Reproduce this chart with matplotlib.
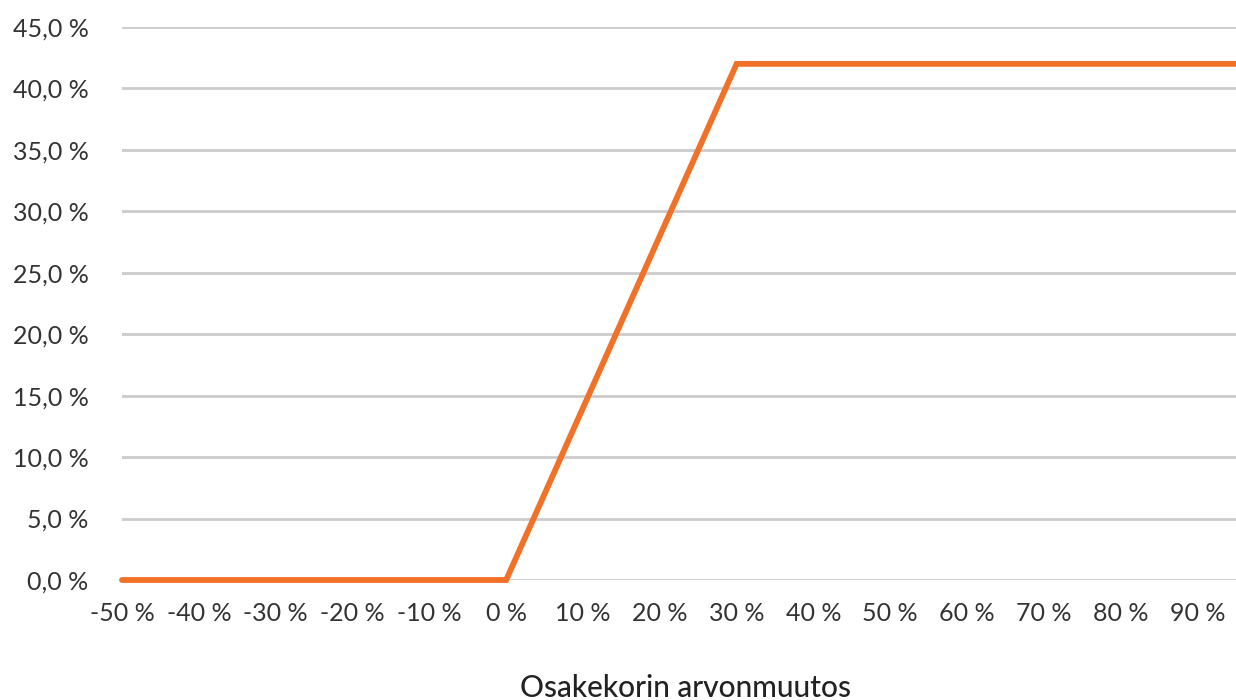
import matplotlib
matplotlib.use("Agg")
import matplotlib.pyplot as plt
from matplotlib.ticker import FuncFormatter

# Data
osakekori_muutos = [-50, -45, -40, -35, -30, -25, -20, -15, -10, -5, 0, 5, 10, 15, 20, 25, 30,
                    35, 40, 45, 50, 55, 60, 65, 70, 75, 80, 85, 90, 95]
tuotto = [0.0, 0.0, 0.0, 0.0, 0.0, 0.0, 0.0, 0.0, 0.0, 0.0, 0.0, 7.0, 14.0, 21.0, 28.0, 35.0, 42.0,
          42.0, 42.0, 42.0, 42.0, 42.0, 42.0, 42.0, 42.0, 42.0, 42.0, 42.0, 42.0, 42.0]
x_ticks = [-50, -40, -30, -20, -10, 0, 10, 20, 30, 40, 50, 60, 70, 80, 90]
y_ticks = [0, 5, 10, 15, 20, 25, 30, 35, 40, 45]
x_label = "Osakekorin arvonmuutos"

plt.rcParams['font.family'] = ['Lato', 'DejaVu Sans']

fig = plt.figure(figsize=(12.36, 7.0), dpi=100)
W, H = 1236, 700
left, right, top, bottom = 122, 1236, 27, 580
ax = fig.add_axes([left / W, 1 - bottom / H, (right - left) / W, (bottom - top) / H])

ax.plot(osakekori_muutos, tuotto, color='#F07127', linewidth=4.2, solid_capstyle='round',
        solid_joinstyle='miter', zorder=3, clip_on=False)

ax.set_xlim(-50, 95)
ax.set_ylim(0, 45)
ax.set_xticks(x_ticks)
ax.set_yticks(y_ticks)
ax.xaxis.set_major_formatter(FuncFormatter(lambda v, p: f"{int(v)} %"))
ax.yaxis.set_major_formatter(FuncFormatter(lambda v, p: f"{v:.1f} %".replace('.', ',')))

ax.grid(axis='y', color='#cbcbcb', linewidth=2.0, zorder=1)
ax.set_axisbelow(True)
for s in ax.spines.values():
    s.set_visible(False)
ax.tick_params(axis='both', length=0, labelsize=18, labelcolor='#333333')
ax.tick_params(axis='x', pad=16)
ax.tick_params(axis='y', pad=24)

fig.text(686 / W, 1 - 688 / H, x_label, ha='center', va='center', fontsize=21.5,
         color='#222222', fontweight='medium')

fig.savefig('out.png', dpi=100, facecolor='white')
